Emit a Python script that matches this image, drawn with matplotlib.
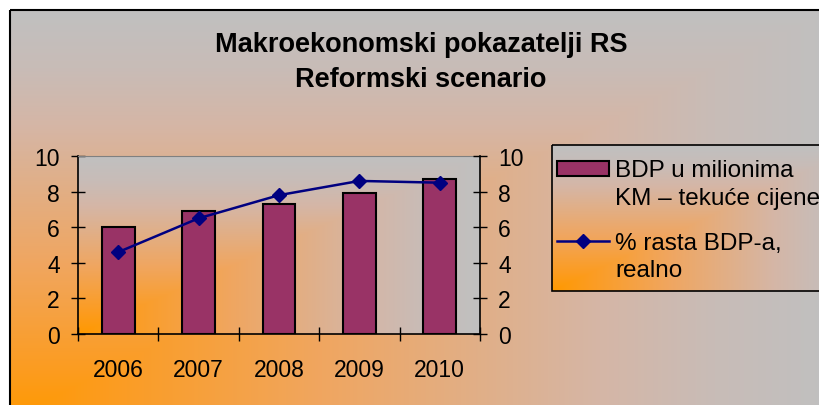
import numpy as np
import matplotlib
matplotlib.use("Agg")
import matplotlib.pyplot as plt
from matplotlib.patches import Rectangle

# ---- data ----
years = ["2006", "2007", "2008", "2009", "2010"]
bdp_values = [6.0, 6.9, 7.3, 7.9, 8.7]          # BDP u milionima KM - tekuće cijene
growth_values = [4.6, 6.5, 7.8, 8.6, 8.5]       # % rasta BDP-a, realno
y_ticks = [0, 2, 4, 6, 8, 10]
title_lines = ["Makroekonomski pokazatelji RS", "Reformski scenario"]
legend_labels = ["BDP u milionima\nKM – tekuće cijene", "% rasta BDP-a,\nrealno"]

plt.rcParams['font.family'] = ['Liberation Sans', 'DejaVu Sans']

W, H = 820, 406
fig = plt.figure(figsize=(W / 100, H / 100), dpi=100)
fig.patch.set_facecolor('white')

bg = fig.add_axes([0, 0, 1, 1])
bg.axis('off')

# gradient stops (orange corner -> gray)
STOP_T = [0.0, 0.12, 0.38, 0.72, 0.86, 1.0]
STOP_C = np.array([[255, 153, 0], [252, 156, 32], [240, 166, 96],
                   [213, 182, 166], [200, 188, 183], [192, 192, 192]]) / 255.0


def corner_grad(x0, y0, x1, y1, z=0):
    w = int(x1 - x0)
    h = int(y1 - y0)
    u = np.linspace(0, 1, w)[None, :]
    v = np.linspace(1, 0, h)[:, None]
    t = np.maximum(u, v)
    img = np.stack([np.interp(t, STOP_T, STOP_C[:, k]) for k in range(3)], axis=-1)
    bg.imshow(img, extent=[x0, x1, y1, y0], aspect='auto',
              interpolation='bilinear', zorder=z)


# chart area
corner_grad(10, 11, 830, 420, z=0)
bg.add_patch(Rectangle((10, 11), 830, 420, fill=False, ec='black', lw=1.5, zorder=1))
# plot area
corner_grad(78, 157, 480, 335, z=1)
# legend area
corner_grad(552, 146, 860, 292, z=1)
bg.add_patch(Rectangle((552, 146), 310, 146, fill=False, ec='black', lw=1.2, zorder=2))
bg.set_xlim(0, W)
bg.set_ylim(H, 0)

# title
bg.text(421, 52, title_lines[0], ha='center', va='baseline', fontsize=19.5,
        fontweight='bold', zorder=3)
bg.text(421, 87, title_lines[1], ha='center', va='baseline', fontsize=19.5,
        fontweight='bold', zorder=3)

BAR_COLOR = '#993366'
LINE_COLOR = '#000080'

# legend (manual)
bg.add_patch(Rectangle((557, 162), 52, 15, fc=BAR_COLOR, ec='black', lw=1.5, zorder=3))
for i, line in enumerate(legend_labels[0].split('\n')):
    bg.text(615, 177 + 28 * i, line, fontsize=17.5, va='baseline', ha='left', zorder=3)
bg.plot([557, 609], [242, 242], color=LINE_COLOR, lw=1.8, zorder=3)
bg.plot([583], [242], marker='D', color=LINE_COLOR, ms=7, zorder=4)
for i, line in enumerate(legend_labels[1].split('\n')):
    bg.text(615, 250 + 27 * i, line, fontsize=17.5, va='baseline', ha='left', zorder=3)

# main axes
ax = fig.add_axes([78 / W, (H - 335) / H, 402 / W, 178 / H])
ax.set_zorder(2)
ax.patch.set_alpha(0)
x = np.arange(len(years))
ax.bar(x, bdp_values, width=0.41, color=BAR_COLOR, edgecolor='black', linewidth=1.5, zorder=2)
ax.set_xlim(-0.5, len(years) - 0.5)
ax.set_ylim(0, 10)
ax.set_yticks(y_ticks)
ax.set_xticks(x, years)
ax.set_xticks(np.arange(-0.5, len(years), 1), minor=True)
ax.tick_params(axis='x', which='major', length=0, pad=17, labelsize=16.5)
ax.tick_params(axis='x', which='minor', direction='inout', length=10, width=1, color='black')
ax.tick_params(axis='y', which='major', direction='inout', length=10, width=1, pad=8, labelsize=16.5)
ax.spines['top'].set_color('#808080')
ax.spines['right'].set_visible(False)
for s in ['left', 'bottom']:
    ax.spines[s].set_color('black')
    ax.spines[s].set_linewidth(1.2)

ax2 = ax.twinx()
ax2.patch.set_alpha(0)
ax2.plot(x, growth_values, color=LINE_COLOR, lw=1.8, marker='D', ms=7, zorder=3)
ax2.set_ylim(0, 10)
ax2.set_yticks(y_ticks)
ax2.tick_params(axis='y', which='major', direction='inout', length=10, width=1, pad=8, labelsize=16.5)
for s in ['top', 'left', 'bottom']:
    ax2.spines[s].set_visible(False)
ax2.spines['right'].set_color('black')
ax2.spines['right'].set_linewidth(1.2)

fig.savefig('out.png', dpi=100)
